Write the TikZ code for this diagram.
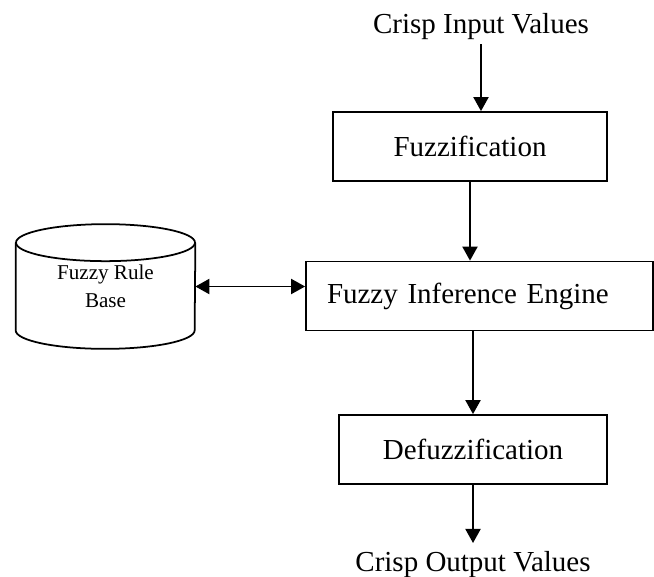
\documentclass[tikz,border=0pt]{standalone}
\usepackage{fontspec}
\setmainfont{Liberation Serif}
\usepackage{tikz}
\usetikzlibrary{arrows.meta,positioning,calc}

\begin{document}
\begin{tikzpicture}[
    stage/.style={rectangle, draw, line width=1pt, fill=white, minimum height=1.38cm, font=\fontsize{16.5}{19}\selectfont},
    ext/.style={font=\fontsize{16.5}{19}\selectfont, inner sep=2pt},
    db/.style={rectangle, minimum width=3.58cm, minimum height=1.74cm, align=center, font=\fontsize{12}{16}\selectfont},
    arrow/.style={-{Triangle[length=0.28cm, width=0.3cm]}, line width=1.1pt}
]
\useasboundingbox (0,0) rectangle (13.08,-11.52);

% Inputs and outputs
\node[ext] (input) at (9.62,-0.54) {Crisp Input Values};
\node[ext] (output) at (9.46,-11.3) {Crisp Output Values};

% Stages
\node[stage, minimum width=5.48cm] (fuzz) at (9.40,-2.93) {Fuzzification};
\node[stage, minimum width=6.94cm, text width=6.1cm, align=left, inner xsep=0.42cm] (engine) at (9.59,-5.92) {Fuzzy Inference Engine};
\node[stage, minimum width=5.36cm] (defuzz) at (9.46,-8.99) {Defuzzification};

% Rule base (cylinder)
\node[db] (rulebase) at (2.11,-5.73) {Fuzzy Rule\\Base};
\draw[line width=1pt] (rulebase.north) ellipse [x radius=1.79cm, y radius=0.37cm];
\draw[line width=1pt] (rulebase.north west) -- (rulebase.south west)
    arc[start angle=180, end angle=360, x radius=1.79cm, y radius=0.37cm]
    -- (rulebase.north east);

% Flow
\draw[arrow] (input.south) -- (input.south |- fuzz.north);
\draw[arrow] (fuzz.south) -- (fuzz.south |- engine.north);
\draw[arrow] (defuzz.north |- engine.south) -- (defuzz.north);
\draw[arrow] (defuzz.south) -- ($(output.north)+(0,0.1)$);
\draw[arrow, {Triangle[length=0.28cm, width=0.3cm]}-{Triangle[length=0.28cm, width=0.3cm]}] (rulebase.east) -- (rulebase.east -| engine.west);

\end{tikzpicture}
\end{document}
